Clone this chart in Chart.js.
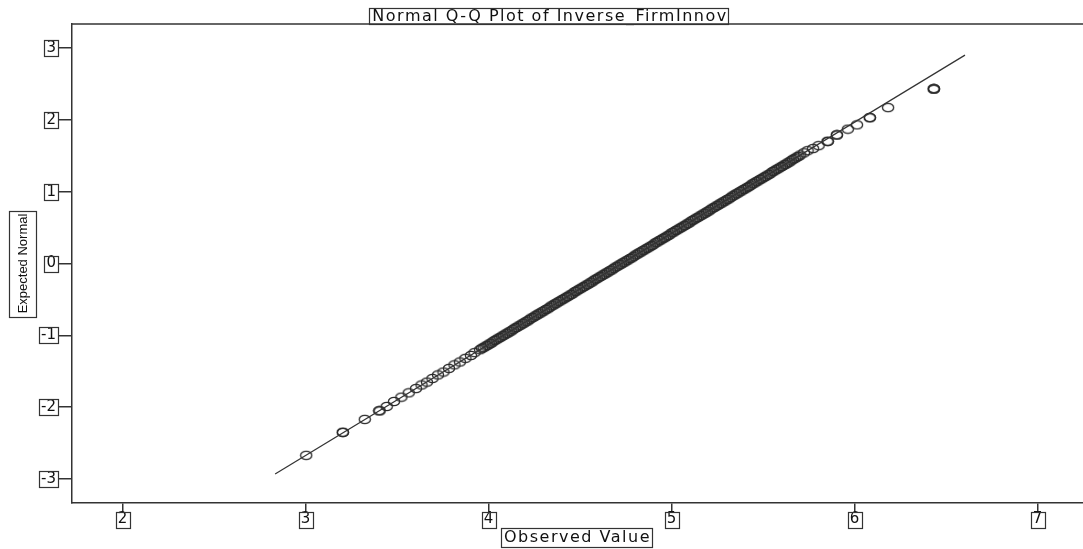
<!DOCTYPE html>
<html>
<head>
<meta charset="utf-8">
<title>Normal Q-Q Plot of Inverse_FirmInnov</title>
<script src="https://cdn.jsdelivr.net/npm/chart.js@4.4.0/dist/chart.umd.min.js"></script>
<style>
body { margin: 0; background: #fff; }
#wrap { width: 1083px; height: 549px; position: relative; }
</style>
</head>
<body>
<div id="wrap"><canvas id="qqChart"></canvas></div>
<script>
var observedValues = [
	3.00, 3.20, 3.20, 3.32, 3.40, 3.40, 3.44, 3.48, 3.52, 3.56, 3.60, 3.63, 3.66, 3.69, 3.72, 3.75, 3.78, 3.81, 3.84, 3.87, 3.90, 3.92,
	3.95, 3.96, 3.97, 3.98, 3.99, 4.00, 4.01, 4.02, 4.03, 4.04, 4.05, 4.06, 4.07, 4.08, 4.09, 4.10, 4.11, 4.12, 4.13, 4.14,
	4.15, 4.16, 4.17, 4.18, 4.19, 4.20, 4.21, 4.22, 4.23, 4.24, 4.25, 4.26, 4.27, 4.28, 4.29, 4.30, 4.31, 4.32, 4.33, 4.34,
	4.35, 4.36, 4.37, 4.38, 4.39, 4.40, 4.41, 4.42, 4.43, 4.44, 4.45, 4.46, 4.47, 4.48, 4.49, 4.50, 4.51, 4.52, 4.53, 4.54,
	4.55, 4.56, 4.57, 4.58, 4.59, 4.60, 4.61, 4.62, 4.63, 4.64, 4.65, 4.66, 4.67, 4.68, 4.69, 4.70, 4.71, 4.72, 4.73, 4.74,
	4.75, 4.76, 4.77, 4.78, 4.79, 4.80, 4.81, 4.82, 4.83, 4.84, 4.85, 4.86, 4.87, 4.88, 4.89, 4.90, 4.91, 4.92, 4.93, 4.94,
	4.95, 4.96, 4.97, 4.98, 4.99, 5.00, 5.01, 5.02, 5.03, 5.04, 5.05, 5.06, 5.07, 5.08, 5.09, 5.10, 5.11, 5.12, 5.13, 5.14,
	5.15, 5.16, 5.17, 5.18, 5.19, 5.20, 5.21, 5.22, 5.23, 5.24, 5.25, 5.26, 5.27, 5.28, 5.29, 5.30, 5.31, 5.32, 5.33, 5.34,
	5.35, 5.36, 5.37, 5.38, 5.39, 5.40, 5.41, 5.42, 5.43, 5.44, 5.45, 5.46, 5.47, 5.48, 5.49, 5.50, 5.51, 5.52, 5.53, 5.54,
	5.55, 5.56, 5.57, 5.58, 5.59, 5.60, 5.61, 5.62, 5.63, 5.64, 5.65, 5.66, 5.67, 5.68, 5.69, 5.70, 5.72, 5.74,
	5.77, 5.80, 5.85, 5.85, 5.90, 5.90, 5.96, 6.01, 6.08, 6.08, 6.18, 6.43, 6.43, 6.43
];
var expectedNormal = [
	-2.67, -2.35, -2.35, -2.17, -2.05, -2.05, -1.99, -1.92, -1.86, -1.80, -1.74, -1.69, -1.65, -1.60, -1.55, -1.51, -1.46, -1.41, -1.37, -1.32, -1.28, -1.24,
	-1.20, -1.18, -1.17, -1.15, -1.14, -1.12, -1.11, -1.09, -1.07, -1.06, -1.04, -1.03, -1.01, -1.00, -0.98, -0.97, -0.95, -0.94, -0.92, -0.90,
	-0.89, -0.87, -0.86, -0.84, -0.83, -0.81, -0.80, -0.78, -0.76, -0.75, -0.73, -0.72, -0.70, -0.69, -0.67, -0.66, -0.64, -0.63, -0.61, -0.59,
	-0.58, -0.56, -0.55, -0.53, -0.52, -0.50, -0.49, -0.47, -0.46, -0.44, -0.43, -0.41, -0.39, -0.38, -0.36, -0.35, -0.33, -0.32, -0.30, -0.29,
	-0.27, -0.26, -0.24, -0.22, -0.21, -0.19, -0.18, -0.16, -0.15, -0.13, -0.12, -0.10, -0.09, -0.07, -0.05, -0.04, -0.02, -0.01, 0.01, 0.02,
	0.04, 0.05, 0.07, 0.08, 0.10, 0.12, 0.13, 0.15, 0.16, 0.18, 0.19, 0.21, 0.22, 0.24, 0.25, 0.27, 0.29, 0.30, 0.32, 0.33,
	0.35, 0.36, 0.38, 0.39, 0.41, 0.43, 0.44, 0.46, 0.47, 0.49, 0.50, 0.52, 0.53, 0.55, 0.56, 0.58, 0.60, 0.61, 0.63, 0.64,
	0.66, 0.67, 0.69, 0.70, 0.72, 0.73, 0.75, 0.77, 0.78, 0.80, 0.81, 0.83, 0.84, 0.86, 0.87, 0.89, 0.90, 0.92, 0.94, 0.95,
	0.97, 0.98, 1.00, 1.01, 1.03, 1.04, 1.06, 1.07, 1.09, 1.11, 1.12, 1.14, 1.15, 1.17, 1.18, 1.20, 1.21, 1.23, 1.24, 1.26,
	1.28, 1.29, 1.31, 1.32, 1.34, 1.35, 1.37, 1.38, 1.40, 1.41, 1.43, 1.45, 1.46, 1.48, 1.49, 1.51, 1.54, 1.57,
	1.60, 1.64, 1.70, 1.70, 1.79, 1.79, 1.87, 1.93, 2.03, 2.03, 2.17, 2.43, 2.43, 2.43
];

// reference line ends
var lineX = [2.83, 6.60];
var lineY = [-2.93, 2.90];

var xTicks = [2, 3, 4, 5, 6, 7];
var yTicks = [-3, -2, -1, 0, 1, 2, 3];

var titleText = 'Normal Q-Q Plot of Inverse_FirmInnov';
var xTitle = 'Observed Value';
var yTitle = 'Expected Normal';

var points = observedValues.map(function (v, i) { return {x: v, y: expectedNormal[i]}; });
var linePoints = lineX.map(function (v, i) { return {x: v, y: lineY[i]}; });

var ink = '#333';
var spacing = 1.5; // the source text is stretched sideways, so widen it a little
var tickFont = {family: 'DejaVu Sans', size: 15, lineHeight: 1};

// ring marker, a bit wider than tall like in the original picture
var ring = document.createElement('canvas');
ring.width = 14;
ring.height = 11;
var rc = ring.getContext('2d');
rc.strokeStyle = '#2a2a2a';
rc.lineWidth = 1.3;
rc.beginPath();
rc.ellipse(7, 5.5, 5.6, 4.2, 0, 0, 2 * Math.PI);
rc.stroke();

var canSpace = 'letterSpacing' in document.createElement('canvas').getContext('2d');

// boxes round the texts, top frame line, letter spacing on/off
var boxedText = {
	id: 'boxedText',
	beforeDraw: function (chart) {
		if (canSpace) chart.ctx.letterSpacing = spacing + 'px';
	},
	afterDatasetsDraw: function (chart) {
		if (canSpace) chart.ctx.letterSpacing = '0px';
	},
	afterDraw: function (chart) {
		var ctx = chart.ctx;
		var area = chart.chartArea;
		ctx.save();
		if (canSpace) ctx.letterSpacing = '0px';
		ctx.strokeStyle = ink;
		ctx.lineWidth = 1.5;

		ctx.beginPath();
		ctx.moveTo(area.left, area.top);
		ctx.lineTo(area.right, area.top);
		ctx.stroke();

		ctx.lineWidth = 1.2;
		function textWidth(str, font, extra) {
			ctx.font = font;
			return ctx.measureText(str).width + (canSpace ? extra * str.length : 0);
		}
		function box(x, y, w, h) {
			ctx.strokeRect(Math.round(x) + 0.5, Math.round(y) + 0.5, Math.round(w), Math.round(h));
		}

		// title
		var t = chart.titleBlock;
		var tw = textWidth(titleText, '16px "DejaVu Sans"', spacing);
		var cx = (t.left + t.right) / 2;
		box(cx - tw / 2 - 3, 8, tw + 4, 16);

		// x ticks and title
		var xs = chart.scales.x;
		xTicks.forEach(function (v) {
			var px = xs.getPixelForValue(v);
			var w = textWidth(String(v), '15px "DejaVu Sans"', spacing);
			box(px - w / 2 - 2, area.bottom + 9, w + 3, 16);
		});
		var xw = textWidth(xTitle, '16px "DejaVu Sans"', spacing);
		var xc = (xs.left + xs.right) / 2;
		box(xc - xw / 2 - 3, xs.bottom - 21, xw + 4, 19);

		// y ticks and title
		var ys = chart.scales.y;
		yTicks.forEach(function (v) {
			var py = ys.getPixelForValue(v);
			var w = textWidth(String(v), '15px "DejaVu Sans"', 0);
			box(area.left - 14 - w - 4, py - 8, w + 4, 16);
		});
		var yw = textWidth(yTitle, '13px "Liberation Sans"', 0);
		var yc = (area.top + area.bottom) / 2;
		box(ys.left - 8, yc - yw / 2 - 3, 27, yw + 6);
		ctx.restore();
	}
};

new Chart('qqChart', {
	type: 'scatter',
	data: {
		datasets: [{
			data: linePoints,
			showLine: true,
			borderColor: ink,
			borderWidth: 1.2,
			pointRadius: 0
		}, {
			data: points,
			pointStyle: ring,
			pointRadius: 5
		}]
	},
	options: {
		responsive: true,
		maintainAspectRatio: false,
		animation: false,
		layout: {autoPadding: false, padding: {left: 17, top: 0, right: 0, bottom: 0}},
		plugins: {
			legend: {display: false},
			tooltip: {enabled: false},
			title: {
				display: true,
				text: titleText,
				color: '#111',
				font: {family: 'DejaVu Sans', size: 16, weight: 'normal', lineHeight: '14px'},
				padding: {top: 10, bottom: 0}
			}
		},
		scales: {
			x: {
				type: 'linear',
				min: 1.72,
				max: 7.245,
				afterBuildTicks: function (scale) {
					scale.ticks = xTicks.map(function (v) { return {value: v}; });
				},
				afterFit: function (scale) {
					scale.height = 46;
					scale.paddingLeft = 0;
					scale.paddingRight = 0;
				},
				ticks: {
					color: '#111',
					font: tickFont,
					padding: 0,
					maxRotation: 0,
					callback: function (v) { return String(v); }
				},
				grid: {drawOnChartArea: false, drawTicks: true, tickLength: 9, color: ink, lineWidth: 1.5},
				border: {display: true, color: ink, width: 1.5},
				title: {
					display: true,
					text: xTitle,
					color: '#111',
					font: {family: 'DejaVu Sans', size: 16, lineHeight: 1},
					padding: {top: 0, bottom: 3}
				}
			},
			y: {
				type: 'linear',
				min: -3.333,
				max: 3.333,
				afterBuildTicks: function (scale) {
					scale.ticks = yTicks.map(function (v) { return {value: v}; });
				},
				afterFit: function (scale) {
					scale.width = 55;
					scale.paddingTop = 0;
					scale.paddingBottom = 0;
				},
				ticks: {
					color: '#111',
					font: tickFont,
					padding: 2,
					z: 1,
					callback: function (v) { return String(v); }
				},
				grid: {drawOnChartArea: false, drawTicks: true, tickLength: 14, color: ink, lineWidth: 1.5, z: 1},
				border: {display: true, color: ink, width: 1.5, z: 1},
				title: {
					display: true,
					text: yTitle,
					color: '#111',
					font: {family: 'Liberation Sans', size: 13, lineHeight: 1},
					padding: {top: 0, bottom: 0}
				}
			}
		}
	},
	plugins: [boxedText]
});
</script>
</body>
</html>
